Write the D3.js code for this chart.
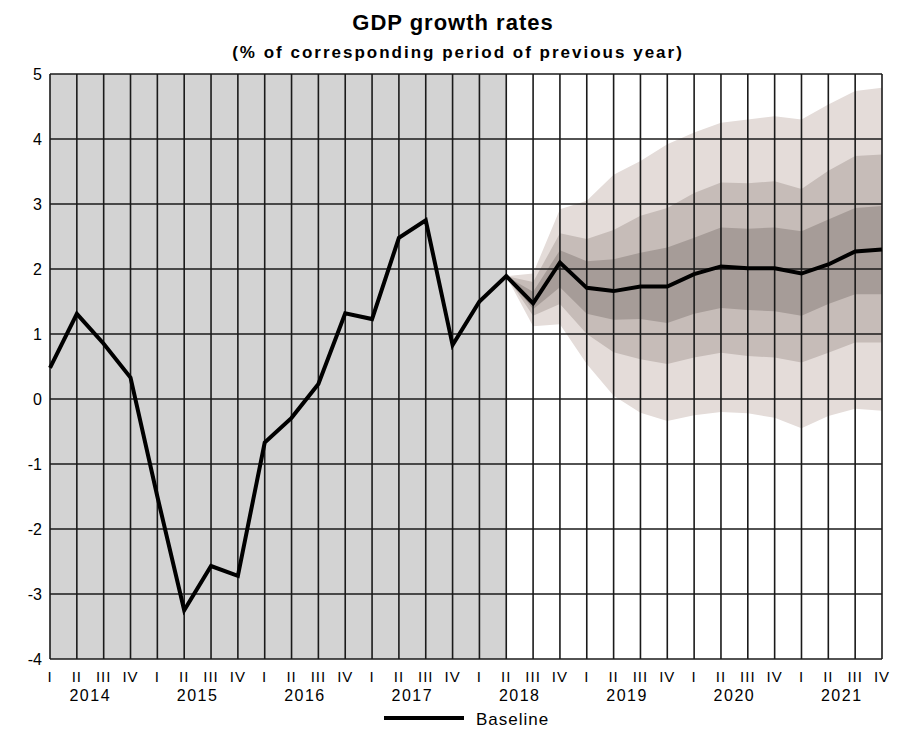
<!DOCTYPE html>
<html>
<head>
<meta charset="utf-8">
<script src="https://cdn.jsdelivr.net/npm/d3@7"></script>
<style>
  body { margin: 0; background: #fff; }
  text { font-family: "Liberation Sans", Arial, sans-serif; fill: #000; }
</style>
</head>
<body>
<div id="plot"></div>
<script>
// quarters 2014 I .. 2021 IV
var years = [2014, 2015, 2016, 2017, 2018, 2019, 2020, 2021]
var quarters = ["I", "II", "III", "IV"]
var yTicks = [-4, -3, -2, -1, 0, 1, 2, 3, 4, 5]

var baseline = [0.48, 1.31, 0.85, 0.33, -1.5, -3.25, -2.57, -2.72,
	-0.67, -0.29, 0.23, 1.32, 1.23, 2.48, 2.75, 0.83,
	1.5, 1.89, 1.47, 2.1, 1.71, 1.66, 1.73, 1.73,
	1.92, 2.04, 2.01, 2.01, 1.93, 2.07, 2.27, 2.3]

// history ends at 2018 II, fan starts there
var lastActual = 17

// fan bands from 2018 II to 2021 IV
var lightHi = [1.89, 1.93, 2.92, 3.05, 3.45, 3.66, 3.92, 4.1, 4.25, 4.3, 4.35, 4.3, 4.53, 4.74, 4.79]
var midHi = [1.89, 1.8, 2.55, 2.46, 2.6, 2.82, 2.94, 3.17, 3.33, 3.32, 3.35, 3.23, 3.51, 3.74, 3.76]
var darkHi = [1.89, 1.65, 2.29, 2.12, 2.15, 2.25, 2.33, 2.48, 2.64, 2.62, 2.64, 2.58, 2.76, 2.94, 2.97]
var darkLo = [1.89, 1.38, 1.72, 1.31, 1.22, 1.23, 1.17, 1.31, 1.4, 1.37, 1.35, 1.28, 1.46, 1.61, 1.61]
var midLo = [1.89, 1.28, 1.46, 1.0, 0.72, 0.61, 0.54, 0.64, 0.71, 0.66, 0.64, 0.56, 0.71, 0.87, 0.87]
var lightLo = [1.89, 1.12, 1.15, 0.54, 0.05, -0.21, -0.34, -0.25, -0.2, -0.22, -0.29, -0.45, -0.26, -0.15, -0.18]

var width = 904, height = 730
var margin = {top: 74, right: 22, bottom: 71, left: 50}

var svg = d3.select("#plot").append("svg")
	.attr("width", width)
	.attr("height", height)

var n = years.length * quarters.length
var x = d3.scaleLinear().domain([0, n - 1]).range([margin.left, width - margin.right])
var y = d3.scaleLinear().domain([-4, 5]).range([height - margin.bottom, margin.top])

// shaded history
svg.append("rect")
	.attr("x", x(0))
	.attr("y", y(5))
	.attr("width", x(lastActual) - x(0))
	.attr("height", y(-4) - y(5))
	.attr("fill", "#d3d3d3")

// fan chart
var bands = [
	{hi: lightHi, lo: lightLo, col: "#e4dcd9"},
	{hi: midHi, lo: midLo, col: "#c6bcb8"},
	{hi: darkHi, lo: darkLo, col: "#a69c98"}
]
bands.forEach(function(b) {
	var area = d3.area()
		.x(function(d, i) { return x(lastActual + i) })
		.y0(function(d, i) { return y(b.lo[i]) })
		.y1(function(d) { return y(d) })
	svg.append("path")
		.datum(b.hi)
		.attr("d", area)
		.attr("fill", b.col)
})

// grid
var grid = svg.append("g").attr("stroke", "#1a1a1a").attr("stroke-width", 1.6)
d3.range(n).forEach(function(i) {
	grid.append("line")
		.attr("x1", x(i)).attr("x2", x(i))
		.attr("y1", y(5)).attr("y2", y(-4))
})
yTicks.forEach(function(t) {
	grid.append("line")
		.attr("x1", x(0)).attr("x2", x(n - 1))
		.attr("y1", y(t)).attr("y2", y(t))
})

// y labels
svg.append("g").selectAll("text")
	.data(yTicks)
	.enter().append("text")
	.attr("x", 42)
	.attr("y", function(d) { return y(d) + 6 })
	.attr("text-anchor", "end")
	.style("font-size", "16px")
	.text(function(d) { return d })

// quarter labels
svg.append("g").selectAll("text")
	.data(d3.range(n))
	.enter().append("text")
	.attr("x", function(d) { return x(d) })
	.attr("y", 682)
	.attr("text-anchor", "middle")
	.style("font-size", "15px")
	.style("letter-spacing", "1px")
	.text(function(d) { return quarters[d % 4] })

// year labels, between II and III
svg.append("g").selectAll("text")
	.data(years)
	.enter().append("text")
	.attr("x", function(d, i) { return x(i * 4 + 1.5) })
	.attr("y", 701)
	.attr("text-anchor", "middle")
	.style("font-size", "16px")
	.style("letter-spacing", "1.5px")
	.text(function(d) { return d })

// baseline
var line = d3.line()
	.x(function(d, i) { return x(i) })
	.y(function(d) { return y(d) })
svg.append("path")
	.datum(baseline)
	.attr("d", line)
	.attr("fill", "none")
	.attr("stroke", "#000")
	.attr("stroke-width", 4)
	.attr("stroke-linejoin", "miter")

// titles
svg.append("text")
	.attr("x", 453).attr("y", 30)
	.attr("text-anchor", "middle")
	.style("font-size", "22px")
	.style("font-weight", "bold")
	.style("letter-spacing", "1px")
	.text("GDP growth rates")
svg.append("text")
	.attr("x", 458).attr("y", 58)
	.attr("text-anchor", "middle")
	.style("font-size", "17px")
	.style("font-weight", "bold")
	.style("letter-spacing", "2px")
	.text("(% of corresponding period of previous year)")

// legend
svg.append("line")
	.attr("x1", 384).attr("x2", 464)
	.attr("y1", 718).attr("y2", 718)
	.attr("stroke", "#000").attr("stroke-width", 4)
svg.append("text")
	.attr("x", 476).attr("y", 725)
	.style("font-size", "17px")
	.style("letter-spacing", "1px")
	.text("Baseline")
</script>
</body>
</html>
